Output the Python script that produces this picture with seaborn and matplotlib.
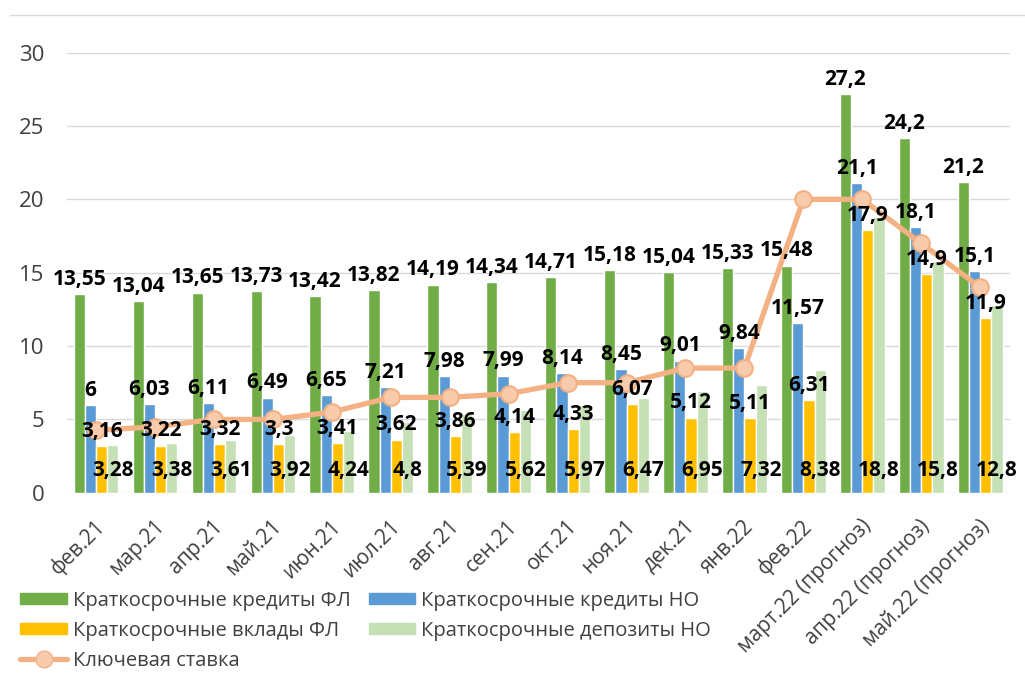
import numpy as np
import pandas as pd
import seaborn as sns
from matplotlib import pyplot as plt
from matplotlib.lines import Line2D
from matplotlib.transforms import ScaledTranslation

months = ["фев.21", "мар.21", "апр.21", "май.21", "июн.21", "июл.21", "авг.21",
          "сен.21", "окт.21", "ноя.21", "дек.21", "янв.22", "фев.22",
          "март.22 (прогноз)", "апр.22 (прогноз)", "май.22 (прогноз)"]

credits_fl = [13.55, 13.04, 13.65, 13.73, 13.42, 13.82, 14.19, 14.34, 14.71,
              15.18, 15.04, 15.33, 15.48, 27.2, 24.2, 21.2]
credits_no = [6, 6.03, 6.11, 6.49, 6.65, 7.21, 7.98, 7.99, 8.14,
              8.45, 9.01, 9.84, 11.57, 21.1, 18.1, 15.1]
deposits_fl = [3.16, 3.22, 3.32, 3.3, 3.41, 3.62, 3.86, 4.14, 4.33,
               6.07, 5.12, 5.11, 6.31, 17.9, 14.9, 11.9]
deposits_no = [3.28, 3.38, 3.61, 3.92, 4.24, 4.8, 5.39, 5.62, 5.97,
               6.47, 6.95, 7.32, 8.38, 18.8, 15.8, 12.8]
key_rate = [4.25, 4.5, 5, 5, 5.5, 6.5, 6.5, 6.75, 7.5, 7.5, 8.5, 8.5,
            20, 20, 17, 14]

series_names = ["Краткосрочные кредиты ФЛ", "Краткосрочные кредиты НО",
                "Краткосрочные вклады ФЛ", "Краткосрочные депозиты НО"]
rate_name = "Ключевая ставка"
colors = ["#70AD47", "#5B9BD5", "#FFC000", "#C5E0B4"]
line_color = "#F4B183"


def fmt(v):
    return f"{v:g}".replace(".", ",")


df = pd.DataFrame({
    "month": months * 4,
    "series": np.repeat(series_names, len(months)),
    "value": credits_fl + credits_no + deposits_fl + deposits_no,
})

sns.set_style("white")
plt.rcParams["font.family"] = ["Open Sans", "DejaVu Sans"]

fig = plt.figure(figsize=(10.25, 6.75), dpi=100)
ax = fig.add_axes([0.065, 0.27, 0.92, 0.652])

sns.barplot(data=df, x="month", y="value", hue="series", palette=colors,
            saturation=1, width=0.76, errorbar=None, legend=False, ax=ax,
            zorder=2)
sns.lineplot(x=np.arange(len(months)), y=key_rate, color=line_color, lw=3.8,
             marker="o", markersize=12, markerfacecolor="#F8CBAD",
             markeredgecolor=line_color, markeredgewidth=1.5, ax=ax, zorder=3)

lbl = dict(fontsize=15, fontweight="bold", color="black", zorder=5)
for cont, vals in zip(ax.containers[:3], [credits_fl, credits_no, deposits_fl]):
    ax.bar_label(cont, labels=[fmt(v) for v in vals], padding=3, **lbl)
# labels of the last series sit at the base of the bars
for p, v in zip(ax.containers[3], deposits_no):
    ax.annotate(fmt(v), (p.get_x() + p.get_width() / 2, 0), xytext=(0, 16),
                textcoords="offset points", ha="center", va="center", **lbl)

ax.set_ylim(0, 30)
ax.set_xlim(-0.5, len(months) - 0.5)
ax.set_yticks(range(0, 31, 5))
ax.yaxis.grid(True, color="#D9D9D9", lw=1)
ax.set_axisbelow(True)
for s in ax.spines.values():
    s.set_visible(False)
ax.set_xlabel("")
ax.set_ylabel("")
ax.tick_params(axis="y", length=0, pad=16, labelsize=16, labelcolor="#404040")
ax.tick_params(axis="x", length=0, pad=22, labelsize=15, labelcolor="#404040")
shift = ScaledTranslation(0.06, 0, fig.dpi_scale_trans)
for t in ax.get_xticklabels():
    t.set_rotation(45)
    t.set_ha("right")
    t.set_va("center")
    t.set_rotation_mode("anchor")
    t.set_transform(t.get_transform() + shift)

handles = [plt.Rectangle((0, 0), 1, 1, color=c) for c in colors]
rate_handle = Line2D([], [], color=line_color, lw=3.8, marker="o", markersize=12,
                     markerfacecolor="#F8CBAD", markeredgecolor=line_color)
order_h = [handles[0], handles[2], rate_handle, handles[1], handles[3]]
order_l = [series_names[0], series_names[2], rate_name, series_names[1], series_names[3]]
fig.legend(order_h, order_l, loc="upper left", bbox_to_anchor=(0.012, 0.137),
           bbox_transform=fig.transFigure, ncol=2, frameon=False, fontsize=14.5,
           handlelength=2.3, handleheight=0.45, labelspacing=0.5,
           columnspacing=0.9, handletextpad=0.3, borderaxespad=0,
           labelcolor="#404040")

fig.add_artist(Line2D([0.01, 1.0], [0.978, 0.978], color="#D9D9D9", lw=1,
                      transform=fig.transFigure))

plt.savefig("out.png", dpi=100)
